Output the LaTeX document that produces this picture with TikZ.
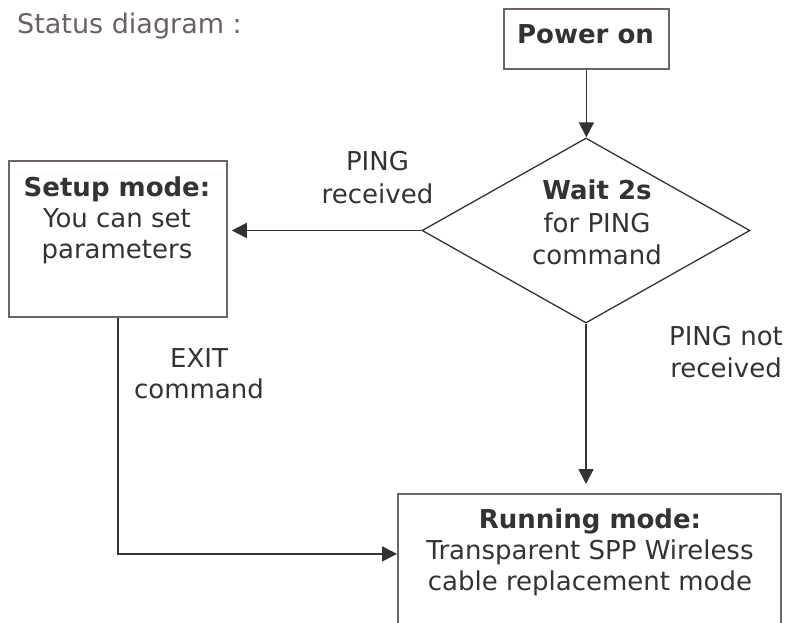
\documentclass[tikz,border=0pt]{standalone}
\usepackage{fontspec}
\setmainfont{DejaVu Sans}
\usetikzlibrary{shapes.geometric,arrows.meta}
\definecolor{boxline}{RGB}{110,100,98}
\definecolor{ink}{RGB}{51,51,51}
\definecolor{titlecol}{RGB}{107,98,96}
\begin{document}
\begin{tikzpicture}[x=1pt,y=-1pt,
  box/.style={draw=boxline,line width=1.8pt,inner sep=0pt,anchor=north west},
  txt/.style={text=ink,font=\fontsize{26}{31}\selectfont,align=center,inner sep=0pt,anchor=north},
  conn/.style={draw=ink,line width=1.8pt,-{Triangle[length=15pt,width=15pt]}}]
\useasboundingbox[fill=white] (0,0) rectangle (789,623);
\node[anchor=base west,text=titlecol,font=\fontsize{27}{32}\selectfont,inner sep=0pt] (title) at (17,34) {Status diagram :};
\node[box,minimum width=165pt,minimum height=60pt] (power) at (503,8) {};
\node[box,minimum width=218pt,minimum height=156pt] (setup) at (8,160) {};
\node[box,minimum width=383pt,minimum height=180pt] (running) at (397,493) {};
\node[diamond,draw=ink,line width=1.3pt,minimum width=328pt,minimum height=185pt,inner sep=0pt] (wait) at (586,230.5) {};
\node[txt,anchor=base] (powertxt) at (585.5,44) {\bfseries Power on};
\node[txt] (setuptxt) at (117,177) {\textbf{Setup mode:}\\You can set\\parameters};
\node[txt,font=\fontsize{26}{32.5}\selectfont] (waittxt) at (597,180) {\textbf{Wait 2s}\\for PING\\command};
\node[txt] (runtxt) at (590,509) {\textbf{Running mode:}\\Transparent SPP Wireless\\cable replacement mode};
\node[txt,font=\fontsize{26}{33}\selectfont] (lbl1) at (377.5,151) {PING\\received};
\node[txt,font=\fontsize{26}{32}\selectfont] (lbl2) at (726,326) {PING not\\received};
\node[txt] (lbl3) at (199,348) {EXIT\\command};
\draw[conn] (power.south) -- (power.south |- wait.north);
\draw[conn] (wait.west) -- ([xshift=4pt]wait.west -| setup.east);
\draw[conn] (wait.south) -- ([yshift=9pt]wait.south |- running.north);
\draw[conn] (setup.south) |- ([yshift=30pt]running.west);
\end{tikzpicture}
\end{document}
